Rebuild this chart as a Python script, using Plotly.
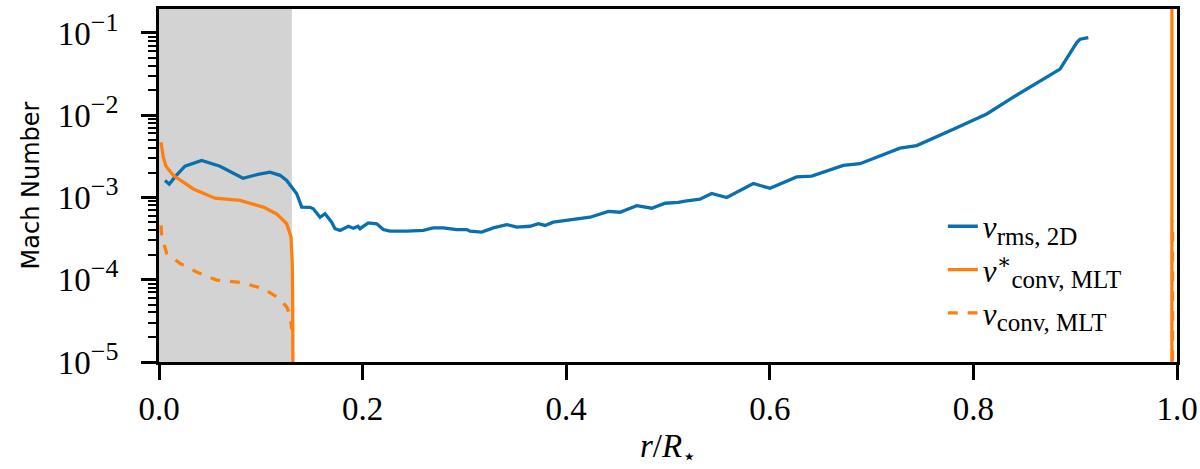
import plotly.graph_objects as go

# ---- data ----
r_rms = [0.0059, 0.0101, 0.0157, 0.0255, 0.0419, 0.0599, 0.0825, 0.0972, 0.1090, 0.1189,
         0.1254, 0.1353, 0.1402, 0.1483, 0.1516, 0.1582, 0.1631, 0.1696, 0.1729, 0.1778,
         0.1860, 0.1909, 0.1955, 0.1974, 0.2056, 0.2139, 0.2203, 0.2269, 0.2433, 0.2596,
         0.2694, 0.2793, 0.2924, 0.3023, 0.3055, 0.3170, 0.3284, 0.3416, 0.3514, 0.3644,
         0.3726, 0.3792, 0.3873, 0.4005, 0.4234, 0.4414, 0.4528, 0.4693, 0.4840, 0.4971,
         0.5101, 0.5184, 0.5314, 0.5429, 0.5577, 0.5838, 0.6002, 0.6264, 0.6412, 0.6722,
         0.6886, 0.7279, 0.7443, 0.7803, 0.8131, 0.8392, 0.8720, 0.8851, 0.9015, 0.9047,
         0.9129]
v_rms = [1.61e-3, 1.45e-3, 1.78e-3, 2.40e-3, 2.82e-3, 2.40e-3, 1.71e-3, 1.91e-3, 2.03e-3, 1.86e-3,
         1.61e-3, 1.11e-3, 7.64e-4, 7.59e-4, 7.29e-4, 5.75e-4, 6.34e-4, 5.01e-4, 4.17e-4, 3.98e-4,
         4.47e-4, 4.22e-4, 4.47e-4, 4.17e-4, 4.90e-4, 4.79e-4, 4.07e-4, 3.89e-4, 3.89e-4, 3.98e-4,
         4.27e-4, 4.27e-4, 4.07e-4, 4.07e-4, 3.89e-4, 3.80e-4, 4.27e-4, 4.68e-4, 4.37e-4, 4.47e-4,
         4.79e-4, 4.57e-4, 5.01e-4, 5.25e-4, 5.75e-4, 6.76e-4, 6.61e-4, 7.94e-4, 7.41e-4, 8.51e-4,
         8.71e-4, 9.12e-4, 9.55e-4, 1.12e-3, 1.00e-3, 1.48e-3, 1.29e-3, 1.78e-3, 1.82e-3, 2.45e-3,
         2.57e-3, 3.98e-3, 4.27e-3, 6.76e-3, 1.035e-2, 1.66e-2, 2.88e-2, 3.63e-2, 7.64e-2, 8.38e-2,
         8.77e-2]

r_star = [0.0020, 0.0042, 0.0069, 0.0140, 0.0337, 0.0550, 0.0796, 0.1025, 0.1156, 0.1254,
          0.1297, 0.1309, 0.1313, 0.1316, None, 0.9950, 0.9950]
v_star = [4.68e-3, 3.09e-3, 2.40e-3, 1.86e-3, 1.27e-3, 9.8e-4, 9.2e-4, 7.64e-4, 6.31e-4, 4.79e-4,
          3.31e-4, 1.58e-4, 6.2e-5, 6.3e-6, None, 6.0e-6, 1.0]

r_conv = [0.0020, 0.0027, 0.0076, 0.0206, 0.0370, 0.0567, 0.0796, 0.1025, 0.1156, 0.1254,
          0.1287, 0.1304, None, 0.9956, 0.9956]
v_conv = [4.57e-4, 3.31e-4, 2.09e-4, 1.58e-4, 1.24e-4, 9.9e-5, 9.3e-5, 7.8e-5, 6.2e-5, 4.7e-5,
          3.7e-5, 2.5e-5, None, 6.0e-6, 5.2e-4]

shade_r = [0.0, 0.1305]
major_exp = [-5, -4, -3, -2, -1]
x_ticks = [0.0, 0.2, 0.4, 0.6, 0.8, 1.0]

BLUE = "#0a6fad"
ORANGE = "#ff7f0e"
SERIF = "Liberation Serif, DejaVu Serif, serif"


def sub(t):
    return f"<sub><span style='font-size:25px'>{t}</span></sub>"


fig = go.Figure()
fig.add_trace(go.Scatter(x=r_rms, y=v_rms, mode="lines",
                         line=dict(color=BLUE, width=3.3),
                         name="<i>v</i>" + sub("rms, 2D")))
fig.add_trace(go.Scatter(x=r_star, y=v_star, mode="lines", connectgaps=False,
                         line=dict(color=ORANGE, width=3.3),
                         name="<i>v</i><sup>∗</sup>" + sub("conv, MLT")))
fig.add_trace(go.Scatter(x=r_conv, y=v_conv, mode="lines", connectgaps=False,
                         line=dict(color=ORANGE, width=3.3, dash="dash"),
                         name="<i>v</i>" + sub("conv, MLT")))

fig.add_vrect(x0=shade_r[0], x1=shade_r[1], fillcolor="#d3d3d3", opacity=1,
              line_width=0, layer="below")

minor_vals = [m * 10.0 ** e for e in range(-6, 0) for m in range(2, 10)]

fig.update_layout(
    width=1200, height=469,
    margin=dict(l=159, r=23, t=9, b=107),
    plot_bgcolor="white", paper_bgcolor="white",
    showlegend=True,
    legend=dict(x=0.77, y=0.46, xanchor="left", yanchor="top",
                bgcolor="rgba(0,0,0,0)", font=dict(family=SERIF, size=31, color="black"),
                tracegroupgap=0),
    xaxis=dict(range=[0, 1], tickvals=x_ticks, ticktext=[f"{v:.1f}" for v in x_ticks],
               automargin=False,
               showgrid=False, zeroline=False, showline=True, linewidth=3, linecolor="black",
               mirror=True, ticks="outside", ticklen=15, tickwidth=3, tickcolor="black",
               ticklabeloverflow="allow",
               tickfont=dict(family=SERIF, size=33, color="black"),
               title=dict(text="<i>r</i>/<i>R</i><sub>⋆</sub>", font=dict(family=SERIF, size=33, color="black"),
                          standoff=22)),
    yaxis=dict(type="log", range=[-5, -0.709],
               tickvals=[10.0 ** e for e in major_exp],
               ticktext=[f"10<sup><span style='font-size:26px'>−{-e}</span></sup>" for e in major_exp],
               automargin=False,
               showgrid=False, zeroline=False, showline=True, linewidth=3, linecolor="black",
               mirror=True, ticks="outside", ticklen=15, tickwidth=3, tickcolor="black",
               ticklabelstandoff=16, ticklabeloverflow="allow",
               tickfont=dict(family=SERIF, size=33, color="black"),
               minor=dict(tickvals=minor_vals, ticks="outside", ticklen=8, tickwidth=2,
                          tickcolor="black", showgrid=False),
               title=dict(text="Mach Number", font=dict(family="DejaVu Sans, sans-serif", size=24, color="black"),
                          standoff=12)),
)

# remove the page's default 8px body margin so the 1200x469 figure fills the window
fig.write_html("out.html", config={"displayModeBar": False},
               post_script="document.body.style.margin='0';document.body.style.overflow='hidden';")
